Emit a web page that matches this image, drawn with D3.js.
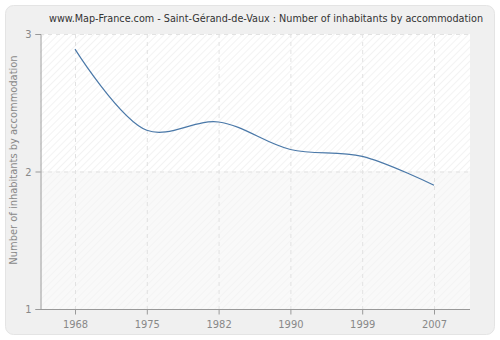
<!DOCTYPE html>
<html>
<head>
<meta charset="utf-8">
<script src="https://cdn.jsdelivr.net/npm/d3@7"></script>
<style>
  body { margin: 0; background: #fff; }
  text { font-family: "DejaVu Sans Condensed", "DejaVu Sans", sans-serif; }
</style>
</head>
<body>
<div class="container"></div>
<script>
const w = 500, h = 340;
const pad = {top: 34, right: 30, bottom: 31, left: 40};

// data
const years = ['1968', '1975', '1982', '1990', '1999', '2007'];
const values = [2.89, 2.30, 2.36, 2.16, 2.11, 1.90];
const yTicks = [1, 2, 3];

const svg = d3.select('.container')
              .append('svg')
              .attr('width', w)
              .attr('height', h);

// hatch patterns for the plot background
const defs = svg.append('defs');
const hatch = defs.append('pattern')
   .attr('id', 'hatch')
   .attr('patternUnits', 'userSpaceOnUse')
   .attr('width', 5).attr('height', 5)
   .attr('patternTransform', 'rotate(45)');
hatch.append('rect').attr('width', 5).attr('height', 5).attr('fill', '#ffffff');
hatch.append('line').attr('x1', 0).attr('y1', 0).attr('x2', 0).attr('y2', 5)
     .attr('stroke', '#ebebeb').attr('stroke-width', 1.2);

const hatch2 = defs.append('pattern')
   .attr('id', 'hatch2')
   .attr('patternUnits', 'userSpaceOnUse')
   .attr('width', 5).attr('height', 5)
   .attr('patternTransform', 'rotate(45)');
hatch2.append('rect').attr('width', 5).attr('height', 5).attr('fill', '#f9f9f9');
hatch2.append('line').attr('x1', 0).attr('y1', 0).attr('x2', 0).attr('y2', 5)
      .attr('stroke', '#f1f1f1').attr('stroke-width', 1.2);

// outer panel
svg.append('rect')
   .attr('x', 5.5).attr('y', 5.5)
   .attr('width', w - 11).attr('height', h - 11)
   .attr('rx', 8)
   .style('fill', '#f0f0f0')
   .style('stroke', '#e4e4e4');

const xScale = d3.scalePoint()
                 .domain(years)
                 .range([75, 434]);

const yScale = d3.scaleLinear()
                 .domain([1, 3])
                 .range([h - pad.bottom, pad.top]);

// plot background
svg.append('rect')
   .attr('x', pad.left).attr('y', pad.top)
   .attr('width', w - pad.left - pad.right)
   .attr('height', yScale(2) - pad.top)
   .style('fill', 'url(#hatch)');
svg.append('rect')
   .attr('x', pad.left).attr('y', yScale(2))
   .attr('width', w - pad.left - pad.right)
   .attr('height', yScale(1) - yScale(2))
   .style('fill', 'url(#hatch2)');

// grid lines
svg.append('g')
   .selectAll('line')
   .data(years)
   .enter()
   .append('line')
   .attr('x1', d => xScale(d) + 0.5).attr('x2', d => xScale(d) + 0.5)
   .attr('y1', pad.top).attr('y2', h - pad.bottom)
   .style('stroke', '#e2e2e2')
   .style('stroke-dasharray', '4,4');
svg.append('g')
   .selectAll('line')
   .data(yTicks.slice(1))
   .enter()
   .append('line')
   .attr('x1', pad.left).attr('x2', w - pad.right)
   .attr('y1', d => yScale(d) + 0.5).attr('y2', d => yScale(d) + 0.5)
   .style('stroke', '#e2e2e2')
   .style('stroke-dasharray', '4,4');

// axes
const xAxis = d3.axisBottom(xScale).tickSize(5).tickPadding(6);
const gx = svg.append('g')
   .attr('transform', `translate(0, ${h - pad.bottom + 0.5})`)
   .call(xAxis);
gx.select('.domain').attr('d', `M${pad.left},0H${w - pad.right}`);

const yAxis = d3.axisLeft(yScale).tickValues(yTicks).tickFormat(d3.format('d')).tickSize(5).tickPadding(4);
const gy = svg.append('g')
   .attr('transform', `translate(${pad.left + 0.5}, 0)`)
   .call(yAxis);

[gx, gy].forEach(g => {
  g.select('.domain').style('stroke', '#999');
  g.selectAll('.tick line').style('stroke', '#999');
  g.selectAll('.tick text').style('fill', '#888').style('font-size', '11px')
   .style('font-family', '"DejaVu Sans Condensed", "DejaVu Sans", sans-serif');
});

// line
const line = d3.line()
               .x((d, i) => xScale(years[i]))
               .y(d => yScale(d))
               .curve(d3.curveCatmullRom.alpha(0.5));
svg.append('path')
   .datum(values)
   .attr('d', line)
   .style('fill', 'none')
   .style('stroke', '#4a78a8')
   .style('stroke-width', 1.2);

// title
const title = svg.append('text')
   .attr('x', 266).attr('y', 22)
   .attr('text-anchor', 'middle')
   .text('www.Map-France.com - Saint-Gérand-de-Vaux : Number of inhabitants by accommodation')
   .style('font-size', '11px')
   .style('fill', '#333');
if (title.node().getComputedTextLength() > 434) {
  title.attr('textLength', 434).attr('lengthAdjust', 'spacingAndGlyphs');
}

// y title
svg.append('text')
   .attr('transform', `translate(17, 160) rotate(-90)`)
   .attr('text-anchor', 'middle')
   .text('Number of inhabitants by accommodation')
   .style('font-size', '11px')
   .style('fill', '#888');
</script>
</body>
</html>
